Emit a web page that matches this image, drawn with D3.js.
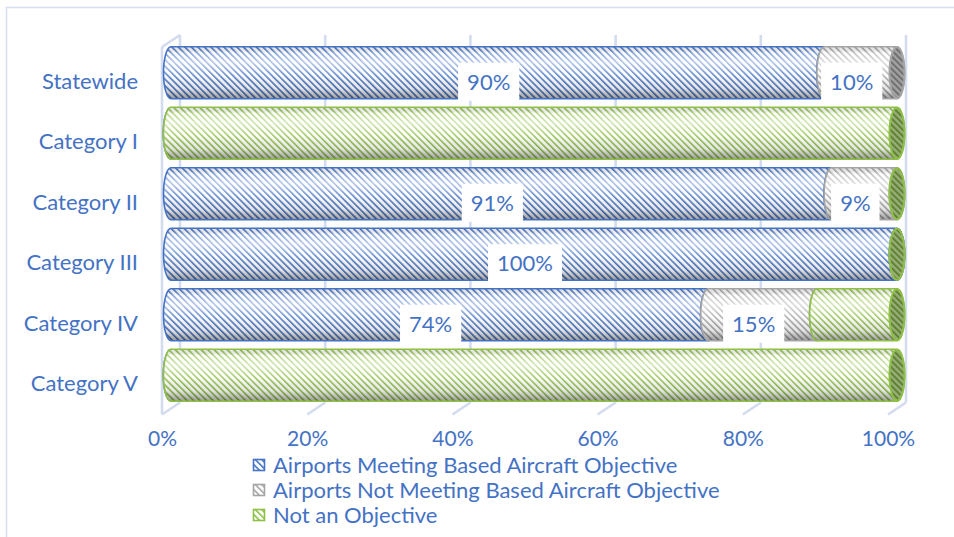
<!DOCTYPE html>
<html>
<head>
<meta charset="utf-8">
<script src="https://cdn.jsdelivr.net/npm/d3@7"></script>
<style>
  html, body { margin: 0; padding: 0; background: #fff; }
  svg { display: block; }
  text { font-family: Lato, "Open Sans", sans-serif; fill: #4472C4; }
</style>
</head>
<body>
<svg id="chart" width="954" height="537"></svg>
<script>
// Share of airports meeting the based-aircraft objective, by airport category
const categories = ["Statewide", "Category I", "Category II", "Category III", "Category IV", "Category V"];
const meeting      = [90, 0, 91, 100, 74, 0];
const notMeeting   = [10, 0, 9, 0, 15, 0];
const notObjective = [null, 100, 0, 0, 11, 100];
const seriesNames = [
  "Airports Meeting Based Aircraft Objective",
  "Airports Not Meeting Based Aircraft Objective",
  "Not an Objective"
];
const seriesValues = [meeting, notMeeting, notObjective];
const seriesColors = ["#4472C4", "#A5A5A5", "#8DC045"];
const xTicks = [0, 20, 40, 60, 80, 100];
const labelledSeries = [0, 1];

const svg = d3.select("#chart");
const defs = svg.append("defs");

// front plane of the 3-D plot area
const x = d3.scaleLinear().domain([0, 100]).range([162, 888]);
const y = d3.scaleBand().domain(categories).range([51.5, 414.5]).paddingInner(0.14).paddingOuter(0.07);
const wallTop = 47, wallBottom = 414.5;
const DX = 18, DY = -12;          // front -> back wall offset
const BX = 9, BY = -9;            // front -> cylinder axis offset
const RX = 7.5;                   // horizontal radius of cylinder ends
const RY = y.bandwidth() / 2;

// chart area border
svg.append("rect").attr("x", 6.5).attr("y", 7.5).attr("width", 1000).attr("height", 600)
  .attr("fill", "none").attr("stroke", "#D6DFEF").attr("stroke-width", 1.5);

// stripe patterns for bodies and darker ones for the end caps
seriesColors.forEach((c, i) => {
  const p = defs.append("pattern").attr("id", "body" + i).attr("patternUnits", "userSpaceOnUse")
    .attr("width", 4.6).attr("height", 4.6).attr("patternTransform", "rotate(-45)");
  p.append("rect").attr("width", 4.6).attr("height", 4.6).attr("fill", "#fff");
  p.append("rect").attr("width", 1.6).attr("height", 4.6).attr("fill", c);

  const q = defs.append("pattern").attr("id", "cap" + i).attr("patternUnits", "userSpaceOnUse")
    .attr("width", 4.4).attr("height", 4.4).attr("patternTransform", "rotate(-45)");
  q.append("rect").attr("width", 4.4).attr("height", 4.4).attr("fill", d3.interpolateRgb(c, "#a0a0a0")(0.6));
  q.append("rect").attr("width", 2).attr("height", 4.4).attr("fill", d3.color(c).darker(1.1));
});

// cylindrical shading across the bar
const shade = defs.append("linearGradient").attr("id", "shade").attr("x1", 0).attr("y1", 0).attr("x2", 0).attr("y2", 1);
[[0, "#000", 0.08], [0.12, "#fff", 0.3], [0.3, "#fff", 0.6], [0.55, "#fff", 0.15], [0.8, "#000", 0.1], [1, "#000", 0.4]]
  .forEach(([o, c, a]) => shade.append("stop").attr("offset", o).attr("stop-color", c).attr("stop-opacity", a));

// walls: left wall edges, back-wall gridlines and floor ticks
const grid = svg.append("g").attr("stroke", "#D3DCEE").attr("stroke-width", 2.6).attr("fill", "none");
grid.append("line").attr("x1", x(0)).attr("y1", wallTop).attr("x2", x(0)).attr("y2", wallBottom);
grid.append("line").attr("x1", x(0)).attr("y1", wallTop).attr("x2", x(0) + DX).attr("y2", wallTop + DY);
grid.selectAll(".gv").data(xTicks).join("line")
  .attr("x1", d => x(d) + DX).attr("x2", d => x(d) + DX)
  .attr("y1", wallTop + DY).attr("y2", wallBottom + DY);
grid.selectAll(".gf").data(xTicks).join("line")
  .attr("x1", d => x(d)).attr("y1", wallBottom)
  .attr("x2", d => x(d) + DX).attr("y2", wallBottom + DY);

// build stacked segments
const segments = [];
categories.forEach((cat, i) => {
  let cum = 0;
  seriesValues.forEach((vals, s) => {
    const v = vals[i];
    if (v === null) return;
    segments.push({ cat, s, v, x0: cum, x1: cum + v });
    cum += v;
  });
});

function bodyPath(d) {
  const xa = x(d.x0) + BX, xb = x(d.x1) + BX;
  const cy = y(d.cat) + RY + BY;
  return `M${xa},${cy - RY}L${xb},${cy - RY}A${RX},${RY} 0 0 1 ${xb},${cy + RY}` +
         `L${xa},${cy + RY}A${RX},${RY} 0 0 1 ${xa},${cy - RY}Z`;
}

const bars = svg.append("g");
segments.forEach(d => {
  const g = bars.append("g");
  const cy = y(d.cat) + RY + BY;
  if (d.v > 0) {
    g.append("path").attr("d", bodyPath(d)).attr("fill", `url(#body${d.s})`);
    g.append("path").attr("d", bodyPath(d)).attr("fill", "url(#shade)")
      .attr("stroke", seriesColors[d.s]).attr("stroke-width", 1.6);
  }
  g.append("ellipse").attr("cx", x(d.x1) + BX).attr("cy", cy).attr("rx", RX).attr("ry", RY - 0.5)
    .attr("fill", `url(#cap${d.s})`).attr("stroke", seriesColors[d.s]).attr("stroke-width", 2);
});

// value labels
const labels = svg.append("g");
segments.filter(d => labelledSeries.includes(d.s) && d.v > 0).forEach(d => {
  const g = labels.append("g").attr("transform", `translate(${x((d.x0 + d.x1) / 2)},${y(d.cat) + y.bandwidth() / 2})`);
  const t = g.append("text").attr("text-anchor", "middle").attr("dy", "0.36em")
    .attr("font-size", 22).text(d.v + "%");
  const w = t.node().getComputedTextLength();
  g.insert("rect", "text").attr("x", -w / 2 - 9).attr("y", -19).attr("width", w + 18).attr("height", 38).attr("fill", "#fff");
});

// axes
const yAxis = svg.append("g").attr("transform", `translate(${x(0)},0)`)
  .call(d3.axisLeft(y).tickSize(0).tickPadding(24));
yAxis.select(".domain").remove();
yAxis.selectAll("text").attr("font-size", 22).attr("fill", "#4472C4").style("font-family", "Lato, sans-serif");

const xAxis = svg.append("g").attr("transform", `translate(0,${wallBottom})`)
  .call(d3.axisBottom(x).tickValues(xTicks).tickFormat(d => d + "%").tickSize(0).tickPadding(17));
xAxis.select(".domain").remove();
xAxis.selectAll("text").attr("font-size", 21).attr("fill", "#4472C4").style("font-family", "Lato, sans-serif");

// legend
const legend = svg.append("g").attr("transform", "translate(253,465)");
seriesNames.forEach((name, i) => {
  const g = legend.append("g").attr("transform", `translate(0,${i * 25})`);
  g.append("rect").attr("x", 0.5).attr("y", -5.5).attr("width", 11).attr("height", 11)
    .attr("fill", `url(#body${i})`).attr("stroke", seriesColors[i]).attr("stroke-width", 1.6);
  g.append("text").attr("x", 20).attr("dy", "0.36em").attr("font-size", 22).text(name);
});
</script>
</body>
</html>
